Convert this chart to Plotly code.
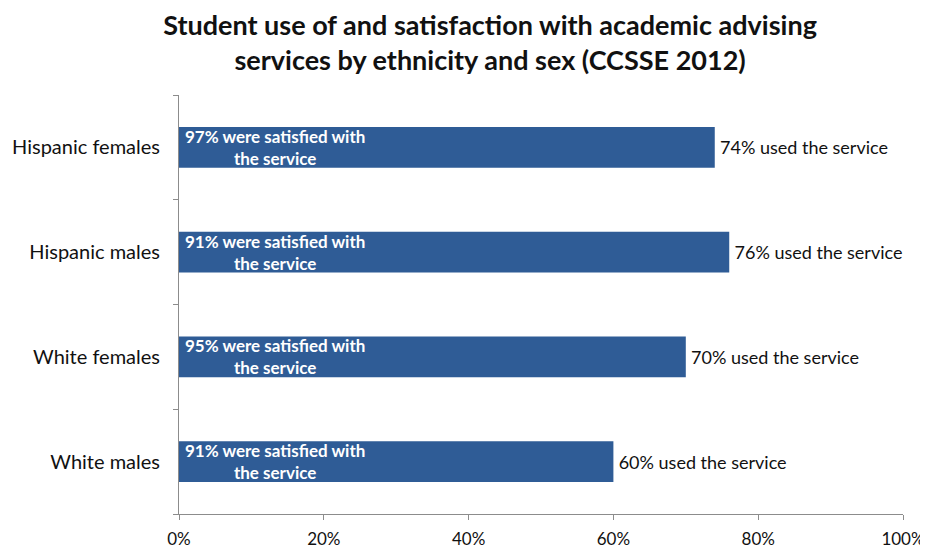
import plotly.graph_objects as go

categories = ["White males", "White females", "Hispanic males", "Hispanic females"]
used_pct = [60, 70, 76, 74]
satisfied_pct = [91, 95, 91, 97]
x_ticks = [0, 20, 40, 60, 80, 100]
x_tick_labels = ["0%", "20%", "40%", "60%", "80%", "100%"]

FONT = "Lato, 'Open Sans', sans-serif"
BAR_COLOR = "#2F5C96"
AXIS_COLOR = "#8C8C8C"

fig = go.Figure()
fig.add_trace(go.Bar(
    y=categories,
    x=used_pct,
    orientation="h",
    marker=dict(color=BAR_COLOR, line=dict(width=0)),
    text=[f"\u2009{v}% used the service" for v in used_pct],
    textposition="outside",
    textfont=dict(family=FONT, size=18, color="#111111"),
    cliponaxis=False,
    hoverinfo="skip",
))

annotations = []
for cat, s in zip(categories, satisfied_pct):
    annotations.append(dict(
        x=0, y=cat, xref="x", yref="y",
        text=f"<b>{s}% were satisfied with<br>the service</b>",
        showarrow=False, xanchor="left", yanchor="middle", align="center",
        xshift=4,
        font=dict(family=FONT, size=17, color="white"),
    ))

# page body has an 8px margin, so the figure is sized/offset to compensate
fig.update_layout(
    width=920, height=544,
    margin=dict(l=171, r=25, t=87, b=38, autoexpand=False),
    paper_bgcolor="white", plot_bgcolor="white",
    title=dict(
        text="<b>Student use of and satisfaction with academic advising<br>services by ethnicity and sex (CCSSE 2012)</b>",
        x=0.524, xanchor="center", y=0.95, yanchor="top",
        font=dict(family=FONT, size=27, color="#111111"),
    ),
    bargap=0.61,
    showlegend=False,
    annotations=annotations,
    xaxis=dict(
        range=[0, 100], tickvals=x_ticks, ticktext=x_tick_labels,
        showgrid=False, zeroline=False, automargin=False,
        showline=True, linecolor=AXIS_COLOR, linewidth=1,
        ticks="outside", ticklen=5, tickcolor=AXIS_COLOR,
        tickfont=dict(family=FONT, size=17, color="#111111"),
        ticklabelstandoff=5,
        fixedrange=True,
    ),
    yaxis=dict(
        categoryorder="array", categoryarray=categories,
        showgrid=False, zeroline=False, automargin=False,
        showline=True, linecolor=AXIS_COLOR, linewidth=1,
        ticks="outside", ticklen=5, tickcolor=AXIS_COLOR, tickson="boundaries",
        tickfont=dict(family=FONT, size=20, color="#111111"),
        ticklabelstandoff=14,
        fixedrange=True,
    ),
)

fig.write_html("out.html")
